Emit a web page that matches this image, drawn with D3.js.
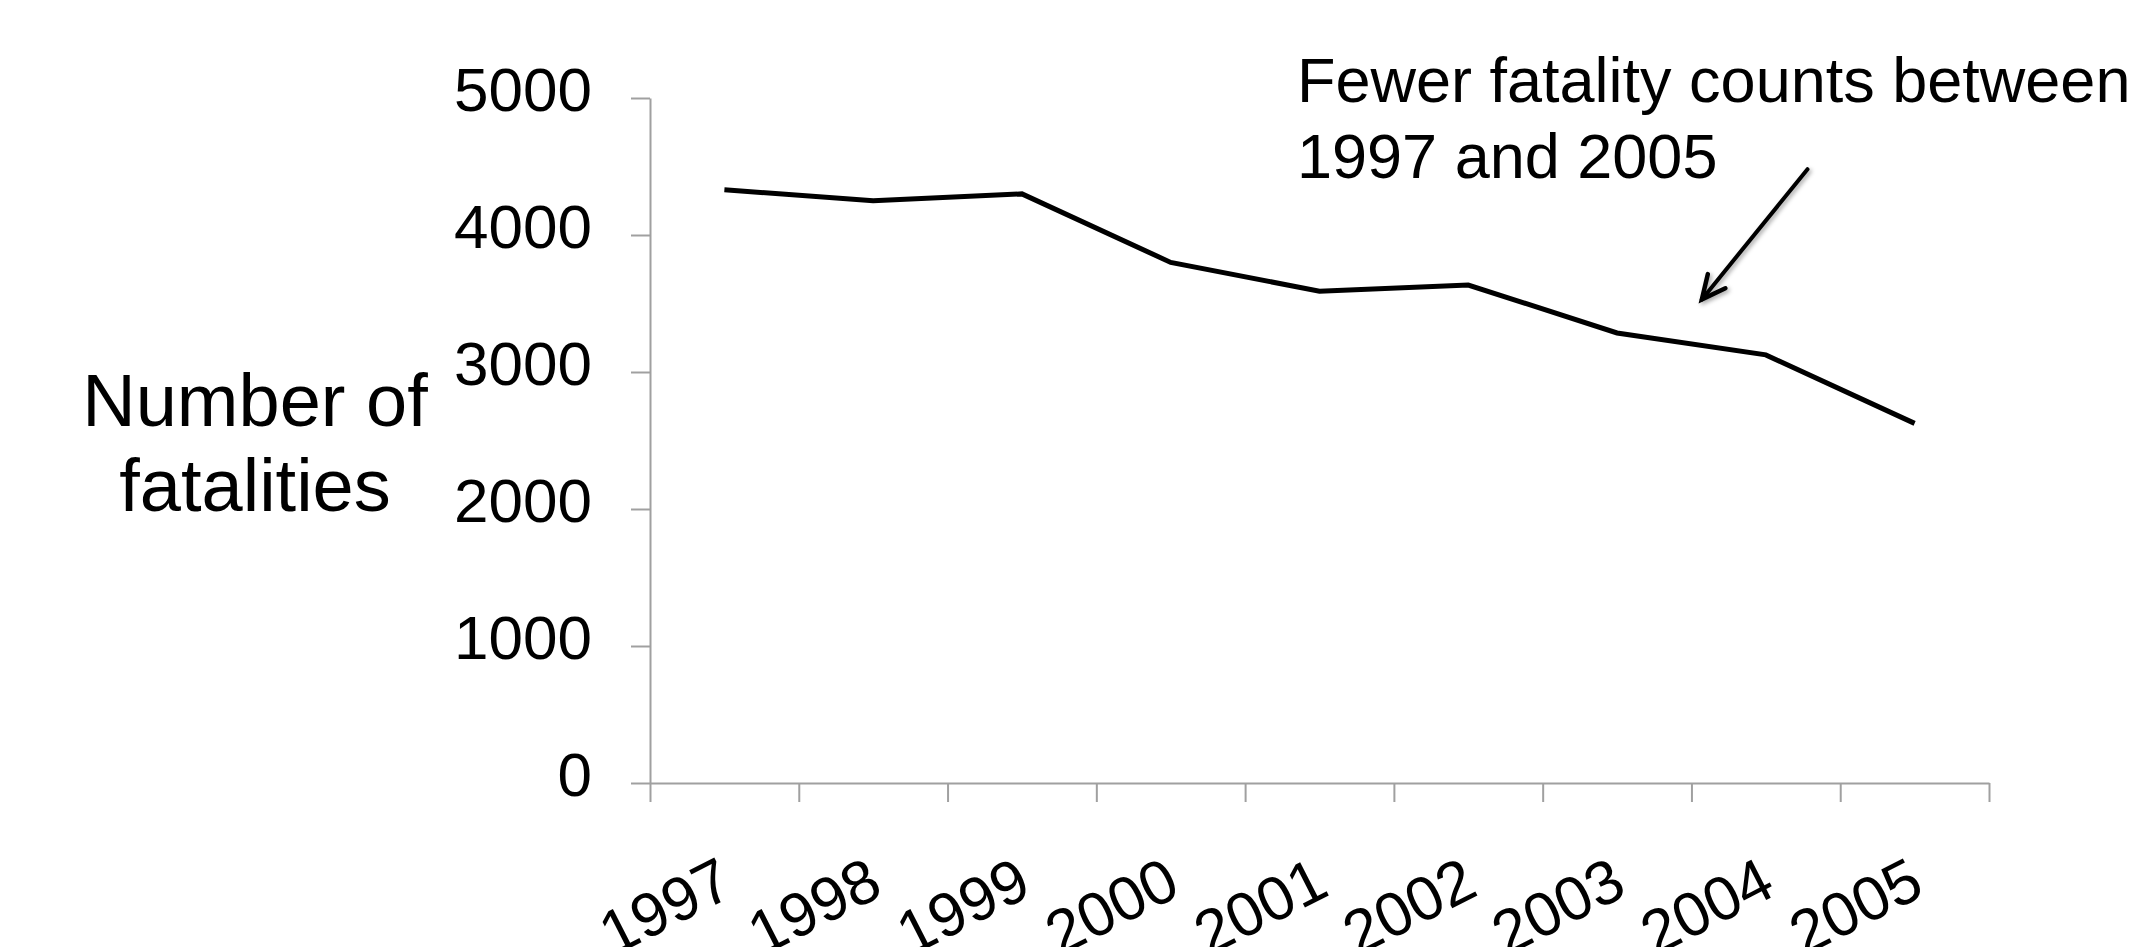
<!DOCTYPE html>
<html>
<head>
<meta charset="utf-8">
<script src="https://cdn.jsdelivr.net/npm/d3@7"></script>
<style>
  html, body { margin: 0; padding: 0; background: #fff; }
  svg { display: block; font-family: "Liberation Sans", Arial, Helvetica, sans-serif; }
</style>
</head>
<body>
<svg id="chart" width="2143" height="947"></svg>
<script>
// ---- data ----
const years = ["1997", "1998", "1999", "2000", "2001", "2002", "2003", "2004", "2005"];
const fatalities = [4330, 4250, 4300, 3800, 3590, 3635, 3285, 3125, 2625];
const yTicks = [0, 1000, 2000, 3000, 4000, 5000];
const yTitleLines = ["Number of", "fatalities"];
const noteLines = ["Fewer fatality counts between", "1997 and 2005"];
// arrow endpoints in data space: [category index position, value]
const arrowFrom = [7.78, 4480];
const arrowTo = [7.07, 3530];

// ---- layout ----
const W = 2143, H = 947;
const plot = { left: 650, right: 1989, top: 98, bottom: 783 };
const axisColor = "#a0a0a0";

const svg = d3.select("#chart");

const x = d3.scaleBand().domain(years).range([plot.left, plot.right]).padding(0);
const xIdx = d3.scaleLinear().domain([0, years.length]).range([plot.left, plot.right]);
const y = d3.scaleLinear().domain([0, 5000]).range([plot.bottom, plot.top]);

// drop shadow for arrow
const defs = svg.append("defs");
const f = defs.append("filter").attr("id", "shadow").attr("x", "-20%").attr("y", "-20%").attr("width", "140%").attr("height", "140%");
f.append("feDropShadow").attr("dx", 2).attr("dy", 2).attr("stdDeviation", 2).attr("flood-color", "#000").attr("flood-opacity", 0.35);

// y axis
const yAxis = svg.append("g")
  .attr("transform", `translate(${plot.left},0)`)
  .call(d3.axisLeft(y).tickValues(yTicks).tickSize(19).tickSizeOuter(0).tickPadding(39).tickFormat(d3.format("d")));
yAxis.select(".domain").attr("stroke", axisColor).attr("stroke-width", 2);
yAxis.selectAll(".tick line").attr("stroke", axisColor).attr("stroke-width", 2);
yAxis.selectAll(".tick text")
  .attr("fill", "#000")
  .attr("font-size", 62)
  .attr("font-family", "'Liberation Sans', Arial, sans-serif")
  .attr("dy", "0.2em");

// x axis (ticks at band boundaries)
const xAxis = svg.append("g")
  .attr("transform", `translate(0,${plot.bottom})`)
  .call(d3.axisBottom(xIdx).tickValues(d3.range(0, years.length + 1)).tickSize(19).tickSizeOuter(0).tickFormat(""));
xAxis.select(".domain").attr("stroke", axisColor).attr("stroke-width", 2);
xAxis.selectAll(".tick line").attr("stroke", axisColor).attr("stroke-width", 2);

// x labels, rotated
svg.append("g").selectAll("text")
  .data(years)
  .join("text")
  .attr("transform", d => `translate(${x(d) + x.bandwidth() / 2 + 12},${plot.bottom + 111}) rotate(-27)`)
  .attr("text-anchor", "end")
  .attr("font-size", 62)
  .attr("fill", "#000")
  .text(d => d);

// y title
svg.append("text")
  .attr("text-anchor", "middle")
  .attr("font-size", 74)
  .attr("fill", "#000")
  .selectAll("tspan")
  .data(yTitleLines)
  .join("tspan")
  .attr("x", 255)
  .attr("y", (d, i) => 426 + i * 85)
  .text(d => d);

// line
const line = d3.line()
  .x((d, i) => x(years[i]) + x.bandwidth() / 2)
  .y(d => y(d));
svg.append("path")
  .datum(fatalities)
  .attr("d", line)
  .attr("fill", "none")
  .attr("stroke", "#000")
  .attr("stroke-width", 5)
  .attr("stroke-linejoin", "miter");

// annotation text
svg.append("text")
  .attr("font-size", 63)
  .attr("fill", "#000")
  .selectAll("tspan")
  .data(noteLines)
  .join("tspan")
  .attr("x", 1297)
  .attr("y", (d, i) => 102 + i * 76)
  .text(d => d);

// arrow
const ax1 = xIdx(arrowFrom[0]), ay1 = y(arrowFrom[1]);
const ax2 = xIdx(arrowTo[0]), ay2 = y(arrowTo[1]);
const ang = Math.atan2(ay2 - ay1, ax2 - ax1);
const headLen = 26, headAng = Math.PI / 7;
const ag = svg.append("g").attr("filter", "url(#shadow)");
ag.append("line")
  .attr("x1", ax1).attr("y1", ay1)
  .attr("x2", ax2).attr("y2", ay2)
  .attr("stroke", "#000").attr("stroke-width", 4).attr("stroke-linecap", "round");
ag.append("path")
  .attr("d", d3.line()([
    [ax2 - headLen * Math.cos(ang - headAng), ay2 - headLen * Math.sin(ang - headAng)],
    [ax2, ay2],
    [ax2 - headLen * Math.cos(ang + headAng), ay2 - headLen * Math.sin(ang + headAng)]
  ]))
  .attr("fill", "none").attr("stroke", "#000").attr("stroke-width", 4.5)
  .attr("stroke-linejoin", "miter").attr("stroke-linecap", "round");
</script>
</body>
</html>
